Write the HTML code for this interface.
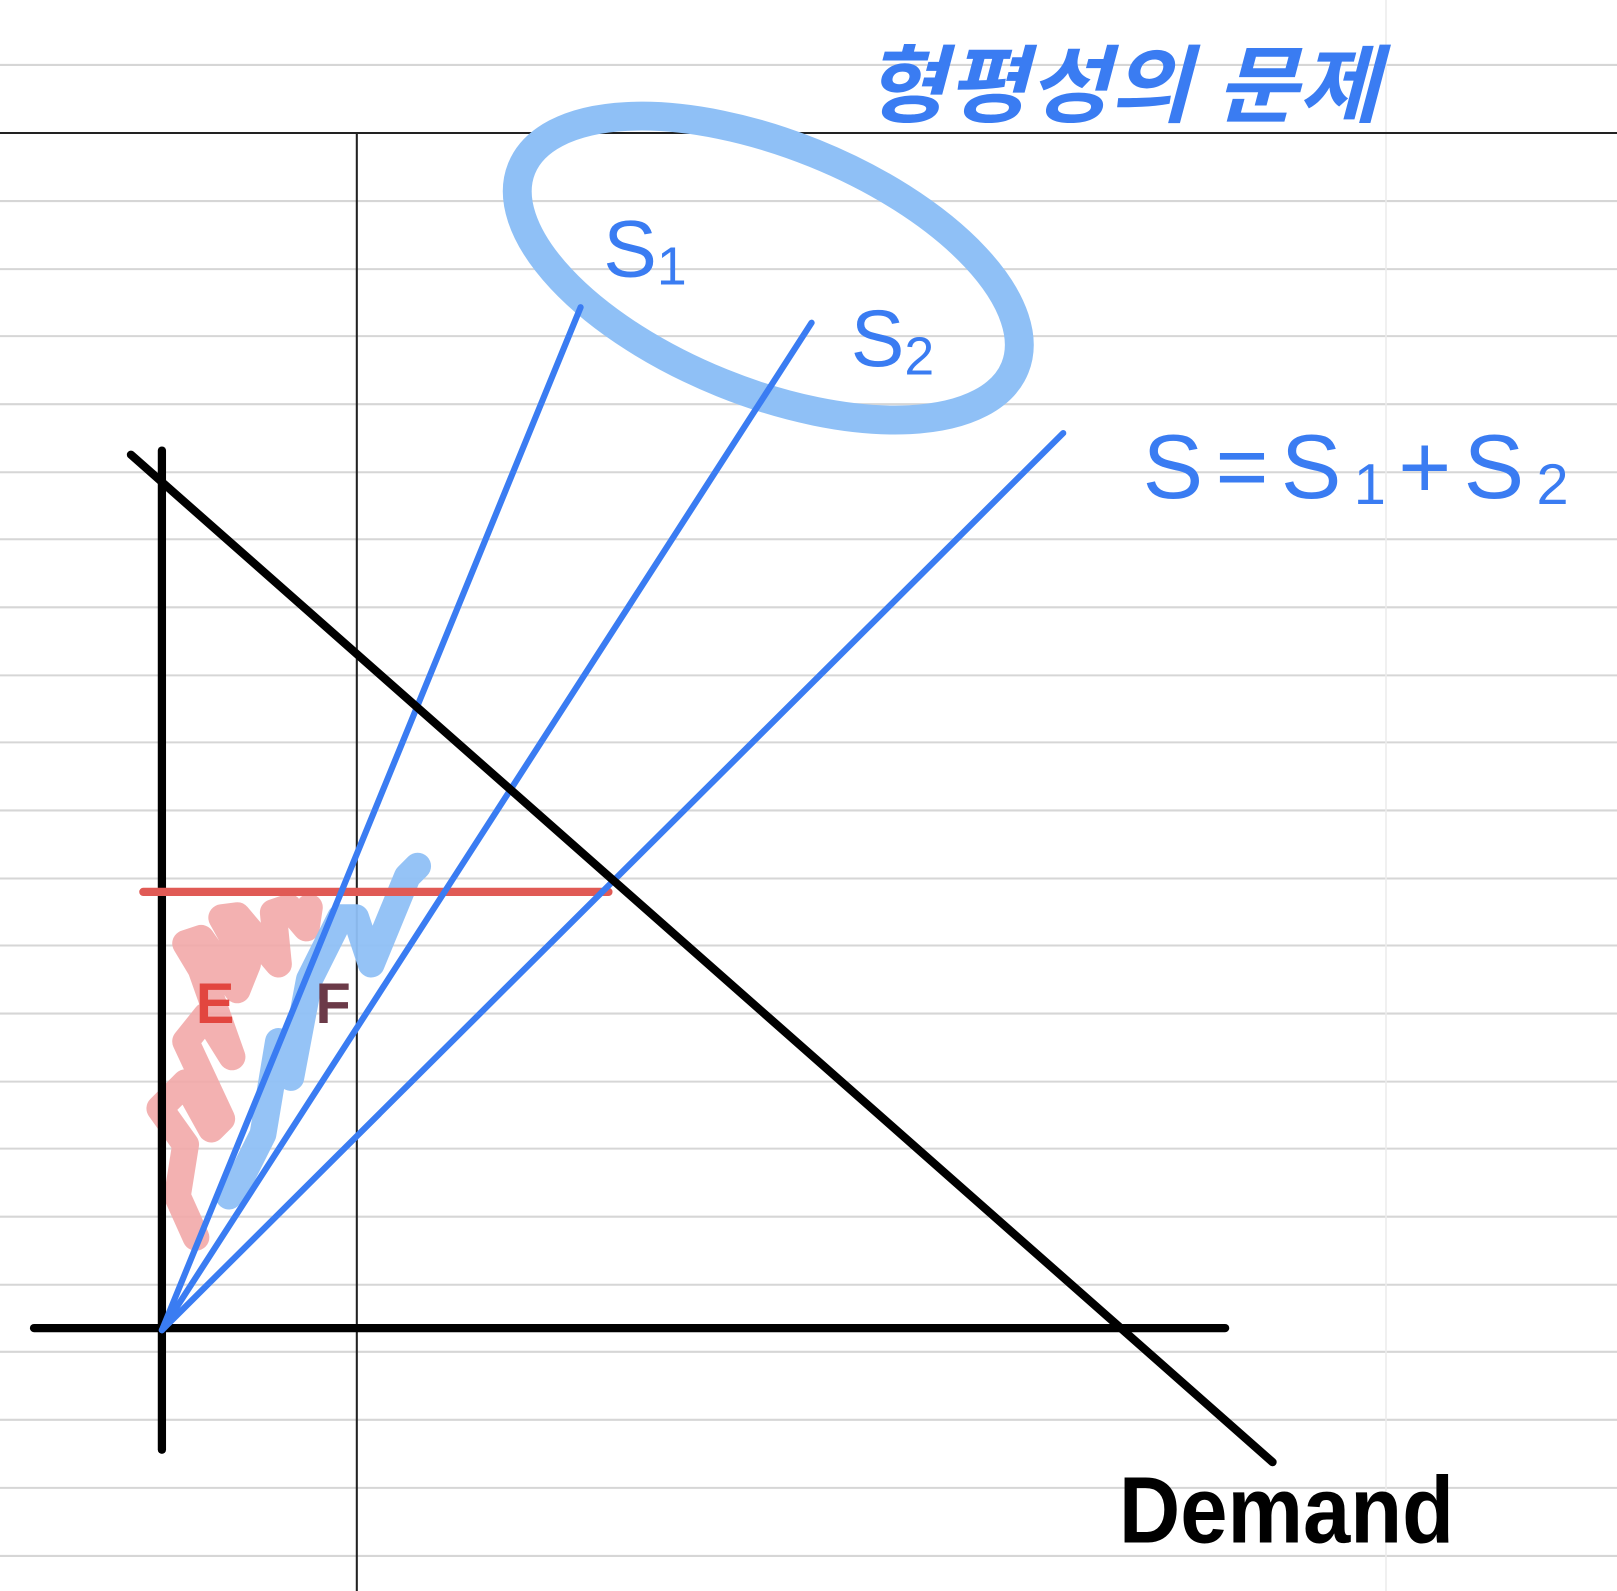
<!DOCTYPE html>
<html><head><meta charset="utf-8"><style>
html,body{margin:0;padding:0;background:#fff;}
svg{display:block;}
.hw{font-family:"Liberation Sans","Noto Sans CJK KR",sans-serif;}
</style></head><body>
<svg id="chart" width="1617" height="1591" viewBox="0 0 1568 1543" preserveAspectRatio="none" xmlns="http://www.w3.org/2000/svg">
<g id="rules"></g>
<line x1="1344" y1="0" x2="1344" y2="1543" stroke="#ececec" stroke-width="1.5"/>
<line x1="0" y1="129" x2="1568" y2="129" stroke="#222" stroke-width="2"/>
<line x1="346" y1="129" x2="346" y2="1543" stroke="#222" stroke-width="2"/>

<g id="marks"></g>

<text class="hw" x="838" y="112" font-size="82" fill="#3a7cf2" font-weight="bold" font-style="italic" textLength="500" lengthAdjust="spacingAndGlyphs">형평성의 문제</text>
<text class="hw" x="585" y="268" font-size="78" fill="#3a7cf2">S<tspan font-size="52" dy="8">1</tspan></text>
<text class="hw" x="825" y="355" font-size="78" fill="#3a7cf2">S<tspan font-size="52" dy="8">2</tspan></text>
<text class="hw" x="1108" y="483" font-size="88" fill="#3a7cf2" letter-spacing="12">S=S<tspan font-size="56" dy="6">1</tspan><tspan dy="-6">+S</tspan><tspan font-size="56" dy="6">2</tspan></text>
<text class="hw" x="1085" y="1496" font-size="92" fill="#000" font-weight="bold" textLength="325" lengthAdjust="spacingAndGlyphs">Demand</text>
<text class="hw" x="190" y="992" font-size="56" fill="#e2463f" font-weight="bold">E</text>
<text class="hw" x="306" y="992" font-size="56" fill="#6b3a48" font-weight="bold">F</text>
</svg>
<script>
const NS='http://www.w3.org/2000/svg';
const ruleYs=[63,195,261,326,392,458,523,589,655,720,786,852,917,983,1049,1114,1180,1246,1311,1377,1443,1509];
const origin=[157,1290];
const supplyEnds={s1:[563,298],s2:[787,313],s:[1031,420]};
const demandPts=[[127,441],[1234,1418]];
const priceY=865;
const priceX=[139,590];
const pinkScribble=[[190,1200],[172,1160],[180,1110],[155,1075],[180,1050],[205,1095],[215,1085],[180,1010],[200,985],[225,1025],[195,940],[180,915],[195,910],[230,960],[240,935],[215,890],[230,888],[270,935],[265,885],[280,880],[297,900],[300,880]];
const blueScribble=[[222,1160],[230,1150],[255,1100],[270,1010],[282,1045],[300,950],[330,890],[345,890],[360,935],[395,850],[405,840]];
const rules=document.getElementById('rules'), marks=document.getElementById('marks');
function mk(tag,attrs,parent){const e=document.createElementNS(NS,tag);for(const k in attrs)e.setAttribute(k,attrs[k]);parent.appendChild(e);return e;}
ruleYs.forEach(y=>{const l=mk('line',{x1:0,x2:1568,y1:y,y2:y,stroke:'#d6d6d6','stroke-width':2},rules);

});
function poly(pts,stroke,w,op,name){const p=mk('polyline',{points:pts.map(p=>p.join(',')).join(' '),fill:'none',stroke:stroke,'stroke-width':w,'stroke-linecap':'round','stroke-linejoin':'round',opacity:op},marks);

return p;}
poly(pinkScribble,'#f2a9a9',26,0.9,'area-e-shading');
poly(blueScribble,'#8fc0f6',26,0.95,'area-f-shading');
const ell=mk('ellipse',{cx:745,cy:260,rx:258,ry:120,transform:'rotate(22 745 260)',fill:'none',stroke:'#8fc0f6','stroke-width':28},marks);


const y=mk('line',{x1:157,y1:437,x2:157,y2:1406,stroke:'#000','stroke-width':8,'stroke-linecap':'round'},marks);


const x=mk('line',{x1:33,y1:1288,x2:1188,y2:1288,stroke:'#000','stroke-width':8,'stroke-linecap':'round'},marks);


const pl=mk('line',{x1:priceX[0],y1:priceY,x2:priceX[1],y2:priceY,stroke:'#e05a55','stroke-width':8,'stroke-linecap':'round'},marks);


Object.keys(supplyEnds).forEach(k=>{const e=supplyEnds[k];const l=mk('line',{x1:origin[0],y1:origin[1],x2:e[0],y2:e[1],stroke:'#3a7cf2','stroke-width':6,'stroke-linecap':'round'},marks);

});
const d=mk('line',{x1:demandPts[0][0],y1:demandPts[0][1],x2:demandPts[1][0],y2:demandPts[1][1],stroke:'#000','stroke-width':8,'stroke-linecap':'round'},marks);


</script>
</body></html>
